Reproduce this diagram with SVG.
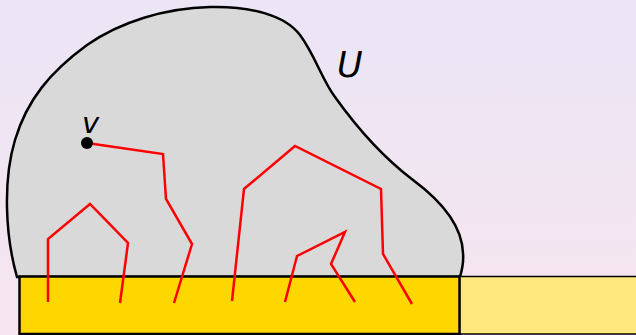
<svg xmlns="http://www.w3.org/2000/svg" width="636" height="335" viewBox="0 0 636 335">
<defs>
<linearGradient id="bg" x1="0" y1="0" x2="0" y2="1">
<stop offset="0" stop-color="#EBE5F6"/>
<stop offset="1" stop-color="#F6E5EE"/>
</linearGradient>
<style>
.path{fill:none;stroke:#FF0000;stroke-width:2.5;stroke-linejoin:miter}
.lbl{font-family:"DejaVu Sans",sans-serif;font-style:italic;fill:#000}
</style>
</defs>
<rect width="636" height="335" fill="url(#bg)"/>
<g id="region-U">
<path d="M 17,277 C 5,235 3,180 15,140 C 27,100 50,72 87,45 C 120,22 165,8 210,7 C 250,6 285,15 300,35 C 315,55 322,80 335,97 C 355,125 380,155 413,180 C 440,200 462,225 463,253 C 464,263 462,270 460,277 Z" fill="#D9D9D9" stroke="#000" stroke-width="2.5"/>
<text class="lbl" x="337" y="77" font-size="35">U</text>
</g>
<g id="boundary-light">
<rect x="459.5" y="276.5" width="180" height="57.5" fill="#FFE97F" stroke="#000" stroke-width="1.5"/>
</g>
<g id="boundary">
<rect x="19.5" y="276.5" width="440" height="57.5" fill="#FFD700" stroke="#000" stroke-width="2.5"/>
</g>
<g id="connectors">
<polyline class="path" points="87,143 163,154 166,199 192,244 174,303"/>
<polyline class="path" points="48,302 48,239 90,204 128,243 120,303"/>
<polyline class="path" points="232,301 244,189 295,146 381,189 383,254 412,304"/>
<polyline class="path" points="285,302 297,256 345,232 331,264 355,302"/>
</g>
<g id="node-v">
<circle cx="87" cy="143" r="6" fill="#000"/>
<text class="lbl" x="82" y="133" font-size="29">v</text>
</g>
</svg>
